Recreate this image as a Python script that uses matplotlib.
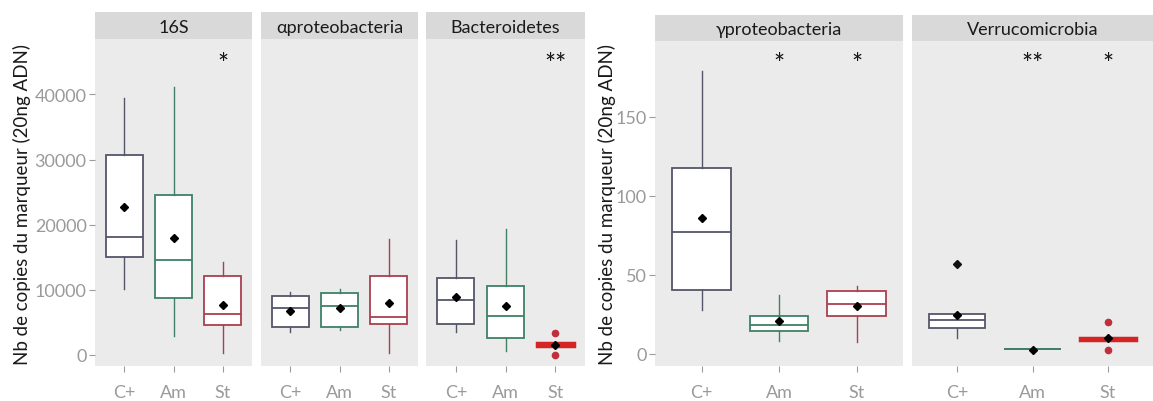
#!/usr/bin/env python3
"""Boxplots of marker copy numbers (C+, Am, St) for five bacterial markers."""

import matplotlib
matplotlib.use("Agg")
import matplotlib.pyplot as plt

# ---------------------------------------------------------------------------
# Data: one list per statistic, order C+, Am, St
# ---------------------------------------------------------------------------
GROUPS = ["C+", "Am", "St"]
YLABEL = "Nb de copies du marqueur (20ng ADN)"

S16 = {"lo": [10060, 2980, 280], "q1": [15020, 8720, 4530],
       "med": [18030, 14620, 6240], "q3": [30700, 24490, 12130],
       "hi": [39490, 41150, 14250], "mean": [22730, 17920, 7630]}
ALPHA = {"lo": [3490, 3750, 280], "q1": [4270, 4270, 4690],
         "med": [7260, 7570, 5820], "q3": [9030, 9430, 12130],
         "hi": [9590, 10160, 17810], "mean": [6750, 7170, 8040]}
BACT = {"lo": [3490, 540, 1580], "q1": [4780, 2560, 1400],
        "med": [8460, 6020, 1580], "q3": [11820, 10630, 1800],
        "hi": [17610, 19270, 1580], "mean": [8880, 7480, 1580]}
GAMMA = {"lo": [27.8, 8.1, 7.1], "q1": [40.3, 14.3, 24.0],
         "med": [76.8, 18.1, 31.2], "q3": [117.6, 24.0, 39.8],
         "hi": [178.7, 37.3, 43.0], "mean": [85.9, 20.6, 29.9]}
VERRU = {"lo": [9.6, 3.0, 9.2], "q1": [16.0, 3.0, 8.6],
         "med": [21.2, 3.0, 9.2], "q3": [25.2, 3.0, 9.8],
         "hi": [25.2, 3.0, 9.2], "mean": [24.2, 2.5, 10.0]}

BACT_FLIERS = [[], [], [3290, -80]]
VERRU_FLIERS = [[56.8], [], [20.1, 2.1]]
NO_FLIERS = [[], [], []]

S16_STARS = ["", "", "*"]
ALPHA_STARS = ["", "", ""]
BACT_STARS = ["", "", "**"]
GAMMA_STARS = ["", "*", "*"]
VERRU_STARS = ["", "**", "*"]

LEFT_TICKS = [0, 10000, 20000, 30000, 40000]
RIGHT_TICKS = [0, 50, 100, 150]

# ---------------------------------------------------------------------------
# Style
# ---------------------------------------------------------------------------
W, H, DPI = 1153, 402, 100
PANEL_BG = "#ebebeb"
STRIP_BG = "#d9d9d9"
TICK_GREY = "#9a9a9a"
EDGE = ["#55556a", "#3f8066", "#a8404f"]
THICK_RED = "#d42424"
FLIER_COL = ["#111111", "#2f6e4f", "#c0303c"]

plt.rcParams.update({
    "font.family": ["Lato", "DejaVu Sans"],
    "font.size": 12,
})


def px(left, top, right, bottom):
    """pixel box -> figure fraction rect"""
    return [left / W, 1 - bottom / H, (right - left) / W, (bottom - top) / H]


def draw_panel(fig, xs, top, strip_bot, bottom, title, st, fliers, stars,
               ylim, yticks, show_y, star_y, thick=False):
    x0, x1 = xs
    # strip
    sax = fig.add_axes(px(x0, top, x1, strip_bot))
    sax.set_facecolor(STRIP_BG)
    sax.set_xticks([]); sax.set_yticks([])
    for s in sax.spines.values():
        s.set_visible(False)
    sax.text(0.5, 0.45, title, ha="center", va="center", fontsize=13,
             color="#1a1a1a", transform=sax.transAxes)

    ax = fig.add_axes(px(x0, strip_bot, x1, bottom))
    ax.set_facecolor(PANEL_BG)
    for s in ax.spines.values():
        s.set_visible(False)

    stats = []
    for i in range(3):
        stats.append(dict(whislo=st["lo"][i], q1=st["q1"][i], med=st["med"][i],
                          q3=st["q3"][i], whishi=st["hi"][i], fliers=fliers[i]))
    art = ax.bxp(stats, positions=[1, 2, 3], widths=0.75, patch_artist=True,
                 showcaps=False, showfliers=True)
    for i in range(3):
        col = EDGE[i]
        box = art["boxes"][i]
        box.set_facecolor("white")
        box.set_edgecolor(col)
        box.set_linewidth(1.3)
        art["medians"][i].set_color(col)
        art["medians"][i].set_linewidth(1.3)
        for w in art["whiskers"][2 * i:2 * i + 2]:
            w.set_color(col)
            w.set_linewidth(1.0)
        fl = art["fliers"][i]
        fl.set_marker("o" if i else "D")
        fl.set_markerfacecolor(FLIER_COL[i])
        fl.set_markeredgecolor(FLIER_COL[i])
        fl.set_markersize(4.5)
        if thick and i == 2:
            # collapsed box drawn as a thick red bar
            box.set_facecolor(THICK_RED)
            box.set_edgecolor(THICK_RED)
            box.set_linewidth(2.5)
            art["medians"][i].set_color(THICK_RED)
    ax.plot([1, 2, 3], st["mean"], ls="none", marker="D", ms=4.5,
            color="black", zorder=5)

    for i, s in enumerate(stars):
        if s:
            ax.text(i + 1, star_y, s, ha="center", va="center", fontsize=19,
                    color="#111111")

    ax.set_xlim(0.4, 3.6)
    ax.set_ylim(*ylim)
    ax.set_xticks([1, 2, 3])
    ax.set_xticklabels(GROUPS)
    ax.set_yticks(yticks)
    ax.tick_params(axis="both", length=4, width=0.8, color=TICK_GREY,
                   labelcolor=TICK_GREY, labelsize=13)
    ax.tick_params(axis="x", pad=9)
    ax.tick_params(axis="y", pad=2)
    if not show_y:
        ax.tick_params(axis="y", length=0, labelleft=False)
    return ax


def main():
    fig = plt.figure(figsize=(W / DPI, H / DPI), dpi=DPI)

    # left chart
    ylim_l = (-1700, 48500)
    star_l = 44600
    draw_panel(fig, (95, 252), 13, 40, 367, "16S", S16, NO_FLIERS,
               S16_STARS, ylim_l, LEFT_TICKS, True, star_l)
    draw_panel(fig, (261, 418), 13, 40, 367, "αproteobacteria", ALPHA,
               NO_FLIERS, ALPHA_STARS, ylim_l, LEFT_TICKS, False, star_l)
    draw_panel(fig, (426, 585), 13, 40, 367, "Bacteroidetes", BACT,
               BACT_FLIERS, BACT_STARS, ylim_l, LEFT_TICKS, False, star_l,
               thick=True)
    fig.text(22 / W, 1 - 205 / H, YLABEL, rotation=90, ha="center",
             va="center", fontsize=13.5, color="#1a1a1a")

    # right chart
    ylim_r = (-7.9, 198)
    star_r = 183
    draw_panel(fig, (655, 903), 16, 42, 367, "γproteobacteria", GAMMA,
               NO_FLIERS, GAMMA_STARS, ylim_r, RIGHT_TICKS, True, star_r)
    draw_panel(fig, (912, 1153), 16, 42, 367, "Verrucomicrobia", VERRU,
               VERRU_FLIERS, VERRU_STARS, ylim_r, RIGHT_TICKS, False, star_r,
               thick=True)
    fig.text(607 / W, 1 - 205 / H, YLABEL, rotation=90, ha="center",
             va="center", fontsize=13.5, color="#1a1a1a")

    fig.savefig("out.png", dpi=DPI, facecolor="white")
    plt.close(fig)


if __name__ == "__main__":
    main()
